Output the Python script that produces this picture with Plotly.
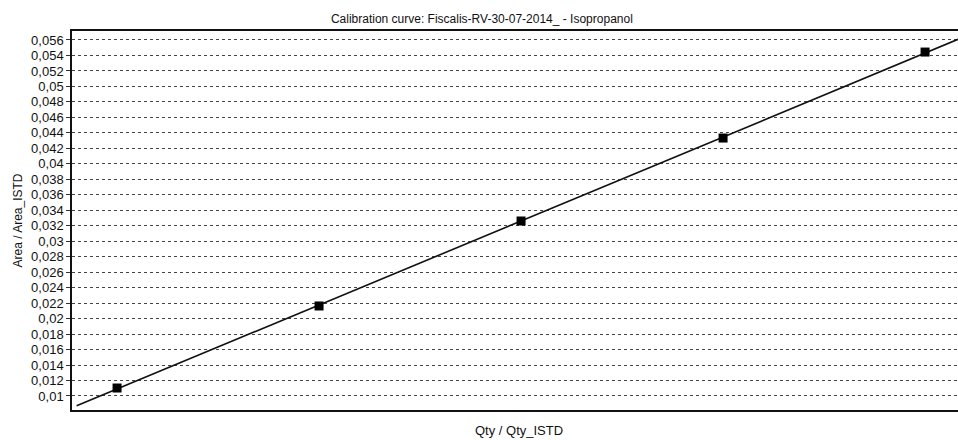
import numpy as np
import plotly.graph_objects as go

# Data
qty_ratio = [1, 2, 3, 4, 5]
area_ratio = [0.01103, 0.02163, 0.03261, 0.04333, 0.05444]

y_tick_vals = [0.010, 0.012, 0.014, 0.016, 0.018, 0.020, 0.022, 0.024, 0.026, 0.028,
               0.030, 0.032, 0.034, 0.036, 0.038, 0.040, 0.042, 0.044, 0.046, 0.048,
               0.050, 0.052, 0.054, 0.056]
y_tick_text = ["0,01", "0,012", "0,014", "0,016", "0,018", "0,02", "0,022", "0,024",
               "0,026", "0,028", "0,03", "0,032", "0,034", "0,036", "0,038", "0,04",
               "0,042", "0,044", "0,046", "0,048", "0,05", "0,052", "0,054", "0,056"]

x_range = [0.777, 5.163]
y_range = [0.00819, 0.05716]
fit_start = 0.80

# Linear calibration fit
slope, intercept = np.polyfit(qty_ratio, area_ratio, 1)
fit_x = np.array([fit_start, x_range[1]])
fit_y = slope * fit_x + intercept

fig = go.Figure()
fig.add_trace(go.Scatter(x=fit_x, y=fit_y, mode="lines",
                         line=dict(color="#111111", width=1.6),
                         hoverinfo="skip", showlegend=False))
fig.add_trace(go.Scatter(x=qty_ratio, y=area_ratio, mode="markers",
                         marker=dict(symbol="square", size=9, color="#000000"),
                         showlegend=False))

fig.add_annotation(text="Qty / Qty_ISTD", xref="paper", yref="paper",
                   x=0.505, y=-0.055, xanchor="center", yanchor="middle",
                   showarrow=False, font=dict(size=13, color="#111111"))

fig.update_layout(
    width=958, height=440,
    margin=dict(l=72, r=0, t=31, b=30, autoexpand=False),
    paper_bgcolor="white", plot_bgcolor="white",
    font=dict(family="Liberation Sans, Arial, sans-serif", color="#111111"),
    title=dict(text="Calibration curve: Fiscalis-RV-30-07-2014_ - Isopropanol",
               x=0.503, xref="container", xanchor="center",
               y=0.957, yref="container", yanchor="middle",
               font=dict(size=12, color="#111111")),
    xaxis=dict(range=x_range, showticklabels=False, showgrid=False, zeroline=False,
               showline=True, linecolor="#111111", linewidth=1.5, mirror=True,
               ticks="", automargin=False),
    yaxis=dict(range=y_range, tickvals=y_tick_vals, ticktext=y_tick_text,
               showgrid=True, gridcolor="#444444", griddash="dot", gridwidth=1,
               zeroline=False, showline=True, linecolor="#111111", linewidth=1.5,
               ticks="outside", ticklen=4, tickcolor="#333333", automargin=False,
               tickfont=dict(size=13, color="#111111"),
               title=dict(text="Area / Area_ISTD", standoff=6,
                          font=dict(size=12, color="#111111"))),
)

fig.write_html("out.html",
               config={"displayModeBar": False},
               post_script="document.body.style.margin='0';"
                           "document.body.style.overflow='hidden';")
